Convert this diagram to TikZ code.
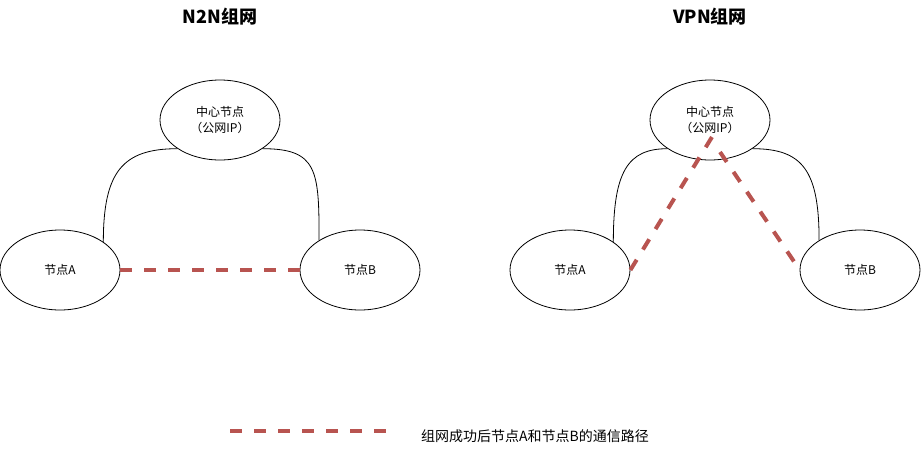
\documentclass[tikz,border=0pt]{standalone}
\usepackage{fontspec}
\setmainfont{Noto Sans CJK SC}
\usetikzlibrary{shapes.geometric}
\definecolor{pathred}{HTML}{B85450}
\tikzset{
  peer/.style={draw=black, line width=0.8pt, ellipse, minimum width=120pt, minimum height=80pt, inner sep=0pt, font=\fontsize{12}{16}\selectfont, align=center},
  link/.style={draw=black, line width=0.8pt},
  route/.style={draw=pathred, line width=4pt, dash pattern=on 12pt off 12pt},
  title/.style={font=\fontsize{18}{20}\selectfont\bfseries},
}
\begin{document}
\begin{tikzpicture}[x=1pt,y=-1pt]
\useasboundingbox (0,0) rectangle (922,451);
% titles
\node[title] (t1) at (220,17) {N2N组网};
\node[title] (t2) at (710,17) {VPN组网};
% N2N
\node[peer] (C1) at (220,120) {中心节点\\（公网IP）};
\node[peer] (A1) at (60,270) {节点A};
\node[peer] (B1) at (360,270) {节点B};
\draw[link] (A1.33) .. controls +(0,-70) and +(-55,0) .. (C1.214);
\draw[link] (C1.326) .. controls +(55,0) and +(0,-70) .. (B1.144.5);
\draw[route] (A1.east) -- (B1.west);
% VPN
\node[peer] (C2) at (710,120) {中心节点\\（公网IP）};
\node[peer] (A2) at (570,270) {节点A};
\node[peer] (B2) at (860,270) {节点B};
\draw[link] (A2.33) .. controls +(0,-70) and +(-40,0) .. (C2.214);
\draw[link] (C2.326) .. controls +(50,0) and +(0,-70) .. (B2.144.5);
\coordinate (v1) at (712,137);
\coordinate (v2) at (720,152);
\coordinate (v3) at (795,263);
\draw[route] (A2.east) -- (v1);
\draw[route] (v2) -- (v3);
% legend
\coordinate (l1) at (230,431);
\coordinate (l2) at (386,431);
\draw[route] (l1) -- (l2);
\node[anchor=west, inner sep=0pt, font=\fontsize{14}{16}\selectfont] (lg) at (421,436) {组网成功后节点A和节点B的通信路径};
\end{tikzpicture}
\end{document}
